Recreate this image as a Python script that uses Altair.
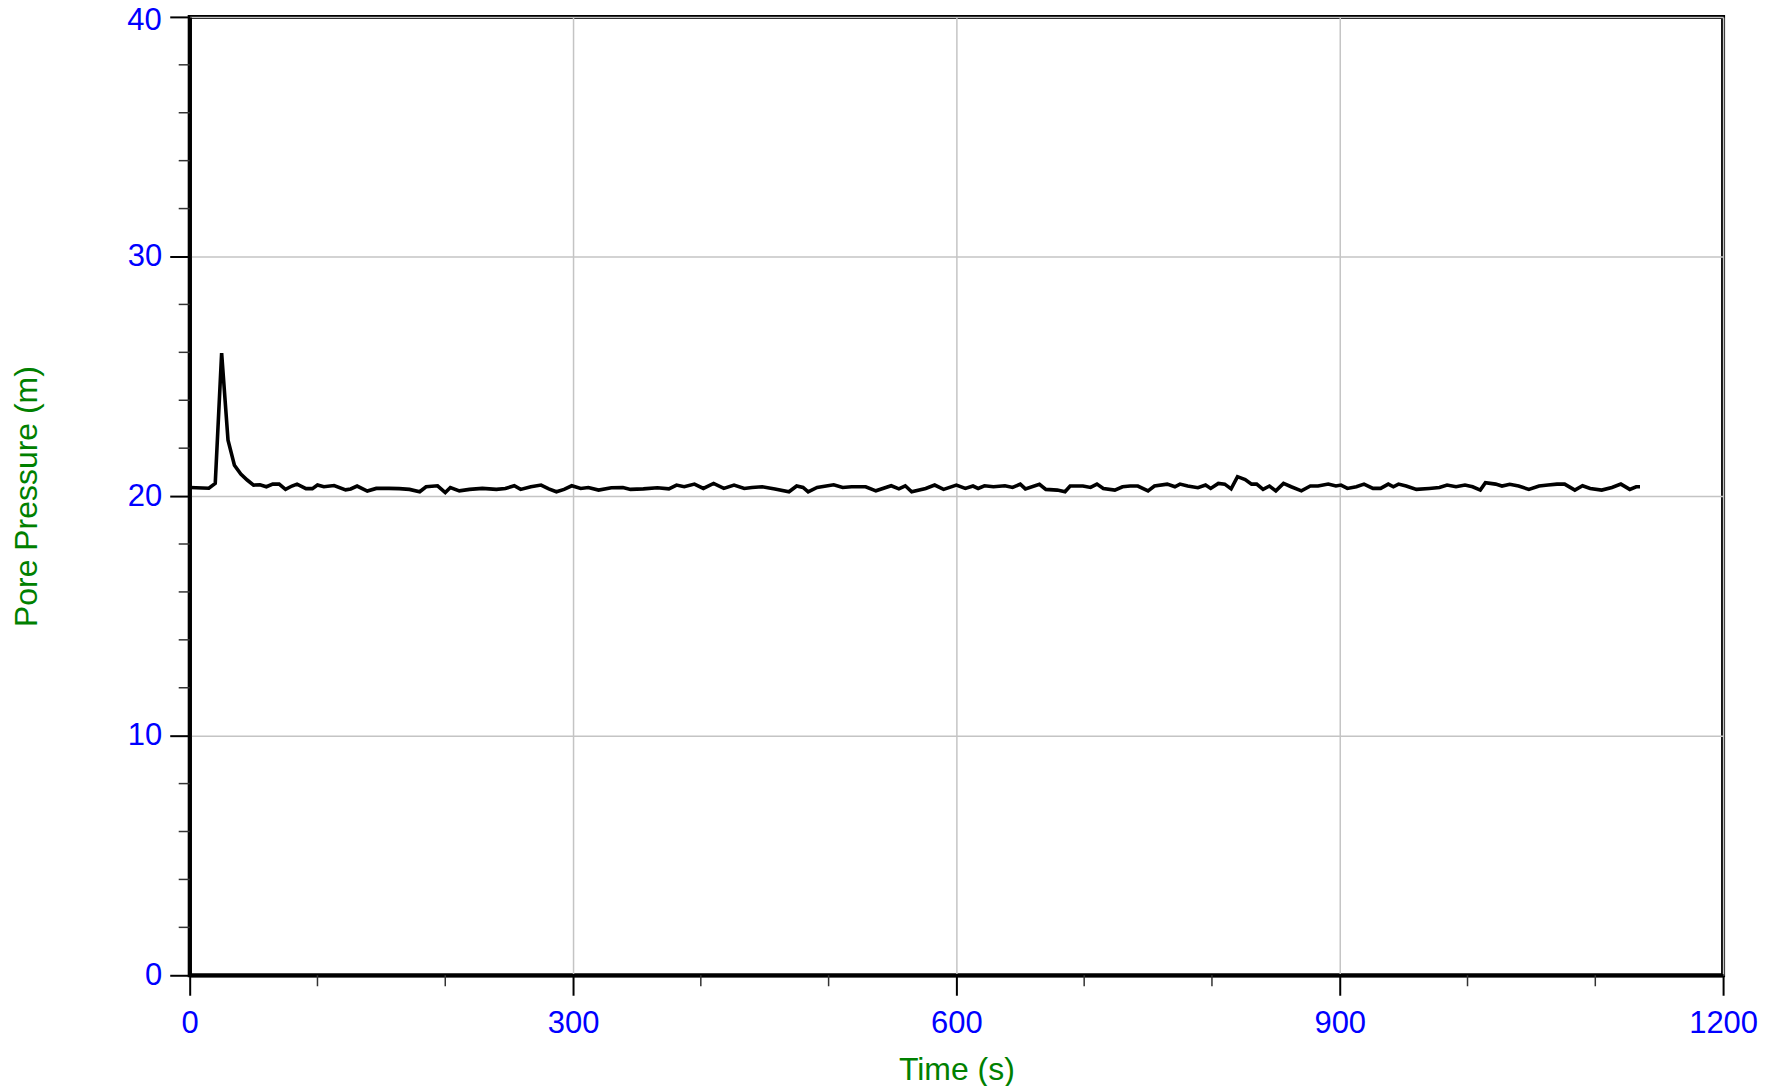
import altair as alt
import pandas as pd

# Time (s) and pore pressure (m)
time_s = [0, 5, 10, 15, 20, 25, 30, 35, 40, 45, 50, 55, 60, 65, 70, 75, 80, 84, 91, 96,
          100, 105, 113, 122, 126, 131, 139, 146, 156, 164, 172, 180, 185, 194, 200, 204,
          211, 219, 229, 240, 247, 254, 259, 267, 275, 281, 287, 293, 299, 306, 312, 320,
          330, 339, 345, 355, 366, 375, 381, 387, 395, 402, 410, 418, 426, 434, 440, 448,
          458, 469, 475, 480, 484, 491, 504, 511, 518, 529, 537, 549, 555, 560, 565, 576,
          583, 590, 600, 607, 613, 617, 622, 629, 638, 644, 650, 654, 665, 670, 679, 685,
          689, 699, 705, 710, 715, 724, 730, 736, 742, 750, 755, 765, 771, 775, 781, 789,
          795, 799, 805, 810, 815, 820, 826, 831, 835, 840, 845, 850, 856, 862, 870, 877,
          883, 891, 897, 901, 906, 913, 919, 926, 932, 938, 942, 946, 952, 960, 970, 978,
          984, 991, 998, 1004, 1010, 1014, 1022, 1027, 1033, 1040, 1048, 1056, 1063, 1070,
          1076, 1084, 1090, 1096, 1105, 1113, 1120, 1127, 1132, 1135]
pressure_m = [20.36, 20.35, 20.34, 20.33, 20.53, 25.97, 22.33, 21.29, 20.92, 20.67, 20.46, 20.47,
              20.39, 20.50, 20.50, 20.28, 20.42, 20.50, 20.31, 20.31, 20.46, 20.39, 20.44, 20.26,
              20.30, 20.42, 20.21, 20.32, 20.32, 20.31, 20.28, 20.18, 20.39, 20.43, 20.15, 20.36,
              20.22, 20.28, 20.32, 20.28, 20.32, 20.43, 20.28, 20.39, 20.46, 20.30, 20.18, 20.28,
              20.43, 20.32, 20.36, 20.25, 20.35, 20.36, 20.28, 20.30, 20.35, 20.30, 20.46, 20.39,
              20.50, 20.32, 20.53, 20.32, 20.46, 20.32, 20.36, 20.39, 20.30, 20.18, 20.42, 20.36,
              20.18, 20.36, 20.47, 20.36, 20.39, 20.39, 20.22, 20.43, 20.30, 20.43, 20.18, 20.32,
              20.46, 20.28, 20.46, 20.32, 20.42, 20.32, 20.43, 20.39, 20.43, 20.36, 20.50, 20.30,
              20.49, 20.28, 20.25, 20.18, 20.42, 20.42, 20.36, 20.50, 20.32, 20.25, 20.39, 20.42,
              20.42, 20.22, 20.42, 20.50, 20.39, 20.50, 20.42, 20.35, 20.46, 20.32, 20.53, 20.50,
              20.30, 20.81, 20.69, 20.50, 20.50, 20.28, 20.42, 20.22, 20.53, 20.39, 20.22, 20.42,
              20.42, 20.50, 20.42, 20.46, 20.32, 20.39, 20.50, 20.32, 20.32, 20.50, 20.39, 20.50,
              20.42, 20.28, 20.32, 20.36, 20.46, 20.39, 20.46, 20.39, 20.25, 20.56, 20.50, 20.42,
              20.49, 20.42, 20.28, 20.42, 20.46, 20.50, 20.50, 20.25, 20.43, 20.32, 20.25, 20.36,
              20.50, 20.28, 20.39, 20.39]

x_major = [0, 300, 600, 900, 1200]
x_minor = [100, 200, 400, 500, 700, 800, 1000, 1100]
y_major = [0, 10, 20, 30, 40]
y_minor = [2, 4, 6, 8, 12, 14, 16, 18, 22, 24, 26, 28, 32, 34, 36, 38]
y_top_label = [40]

W, H = 1536, 960
FONT = "Liberation Sans"
BLUE = "#0000ff"
GREEN = "#008000"

df = pd.DataFrame({"t": time_s, "p": pressure_m})
dfx = pd.DataFrame({"t": x_minor})
dfy = pd.DataFrame({"p": y_minor})
dftop = pd.DataFrame({"p": y_top_label, "lbl": [str(v) for v in y_top_label]})

xscale = alt.Scale(domain=[0, 1200], nice=False, zero=False)
yscale = alt.Scale(domain=[0, 40], nice=False, zero=False)

common_axis = dict(
    grid=True, gridColor="#c4c4c4", gridWidth=1.5,
    tickColor="black", tickWidth=2, tickSize=20,
    domain=True, domainColor="black", domainWidth=3.5,
    labelColor=BLUE, labelFont=FONT, labelFontSize=31,
    titleColor=GREEN, titleFont=FONT, titleFontSize=32, titleFontWeight="normal",
    labelFlush=False, labelOverlap=False, format="d",
)


def x_axis():
    return alt.Axis(values=x_major, title="Time (s)", labelPadding=13, titlePadding=16,
                    **common_axis)


def y_axis():
    # the top label (40) is drawn by a text layer, nudged down so it stays inside the page
    return alt.Axis(values=y_major, title="Pore Pressure (m)", labelPadding=8,
                    titlePadding=84, labelExpr="datum.value == 40 ? '' : datum.label",
                    **common_axis)


line = alt.Chart(df).mark_line(color="black", strokeWidth=3.6).encode(
    x=alt.X("t:Q", scale=xscale, axis=x_axis()),
    y=alt.Y("p:Q", scale=yscale, axis=y_axis()),
)

xminor = alt.Chart(dfx).mark_rule(color="#333333", strokeWidth=1.5).encode(
    x=alt.X("t:Q", scale=xscale, axis=x_axis()),
    y=alt.value(H),
    y2=alt.value(H + 11),
)

yminor = alt.Chart(dfy).mark_rule(color="#333333", strokeWidth=1.5).encode(
    y=alt.Y("p:Q", scale=yscale, axis=y_axis()),
    x=alt.value(-11),
    x2=alt.value(0),
)

toplabel = alt.Chart(dftop).mark_text(
    align="right", baseline="middle", font=FONT, fontSize=31, color=BLUE, dy=4,
).encode(
    y=alt.Y("p:Q", scale=yscale, axis=y_axis()),
    x=alt.value(-28),
    text="lbl:N",
)

chart = alt.layer(line, xminor, yminor, toplabel).properties(
    width=W, height=H,
    autosize=alt.AutoSizeParams(type="none"),
    padding={"left": 182, "top": 8, "right": 50, "bottom": 110},
).configure_view(stroke="black", strokeWidth=4)

chart.save("out.html", embed_options={"renderer": "svg", "actions": False})
